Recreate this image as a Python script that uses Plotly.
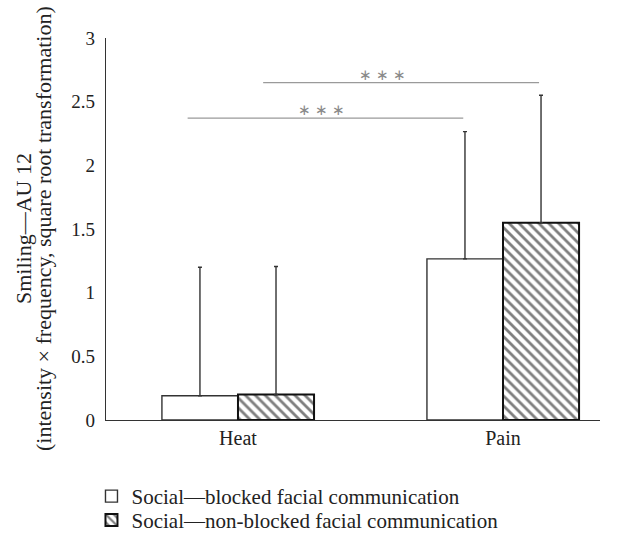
import plotly.graph_objects as go

categories = ["Heat", "Pain"]
series_names = ["Social—blocked facial communication", "Social—non-blocked facial communication"]
blocked_vals = [0.19, 1.265]
nonblocked_vals = [0.20, 1.55]
blocked_err = [1.01, 1.0]
nonblocked_err = [1.005, 1.0]
ytick_vals = [0, 0.5, 1, 1.5, 2, 2.5, 3]
ytick_text = ["0", "0.5", "1", "1.5", "2", "2.5", "3"]
ytitle_lines = ["Smiling—AU 12", "(intensity × frequency, square root transformation)"]

# significance brackets (category units) and levels
sig_x0 = [-0.19, 0.095]
sig_x1 = [0.85, 1.136]
sig_y = [2.37, 2.65]
sig_label_x = [0.316, 0.545]
sig_labels = ["∗ ∗ ∗", "∗ ∗ ∗"]

FONT = "Liberation Serif"
TXT = "#222222"

fig = go.Figure()
fig.add_trace(go.Bar(
    x=categories, y=blocked_vals, name=series_names[0], legend="legend",
    marker=dict(color="white", line=dict(color="#333333", width=1.4)),
    error_y=dict(type="data", array=blocked_err, arrayminus=[0, 0], symmetric=False,
                 color="#333333", thickness=1.4, width=2),
))
fig.add_trace(go.Bar(
    x=categories, y=nonblocked_vals, name=series_names[1], legend="legend2",
    marker=dict(color="white", line=dict(color="#111111", width=2),
                pattern=dict(shape="\\", fgcolor="#000000", bgcolor="white", size=7, solidity=0.4)),
    error_y=dict(type="data", array=nonblocked_err, arrayminus=[0, 0], symmetric=False,
                 color="#333333", thickness=1.4, width=2),
))

for x0, x1, y in zip(sig_x0, sig_x1, sig_y):
    fig.add_shape(type="line", xref="x", yref="y", x0=x0, x1=x1, y0=y, y1=y,
                  line=dict(color="#9a9a9a", width=1.2))
for lx, y, t in zip(sig_label_x, sig_y, sig_labels):
    fig.add_annotation(x=lx, y=y, xref="x", yref="y", text=t, showarrow=False,
                       yanchor="bottom", yshift=-2,
                       font=dict(family=FONT, size=15, color="#8a8a8a"))

# y-axis title, two rotated lines (positioned in x-domain units)
for i, line in enumerate(ytitle_lines):
    fig.add_annotation(x=(23 + 20 * i - 106) / 494, y=0.5, xref="x domain", yref="paper",
                       text=line, showarrow=False, textangle=-90,
                       xanchor="center", yanchor="middle",
                       font=dict(family=FONT, size=22, color=TXT))

legend_common = dict(x=-0.0294, xref="paper", yref="container",
                     xanchor="left", yanchor="top", orientation="v",
                     font=dict(family=FONT, size=21, color=TXT),
                     itemwidth=30, tracegroupgap=0, bgcolor="rgba(0,0,0,0)")

fig.update_layout(
    width=637, height=533,
    margin=dict(l=106, r=37, t=38, b=113, autoexpand=False),
    paper_bgcolor="white", plot_bgcolor="white",
    barmode="group", bargap=0.426, bargroupgap=0,
    font=dict(family=FONT, size=20, color=TXT),
    showlegend=True,
    legend=dict(y=0.107, **legend_common),
    legend2=dict(y=0.062, **legend_common),
)
fig.update_xaxes(
    range=[-0.498, 1.366], showline=True, linecolor="#333333", linewidth=1.3,
    showgrid=False, ticks="", zeroline=False, automargin=False,
    tickfont=dict(family=FONT, size=20, color=TXT),
)
fig.update_yaxes(
    range=[0, 3], tickvals=ytick_vals, ticktext=ytick_text,
    showline=True, linecolor="#333333", linewidth=1.3,
    showgrid=False, ticks="", zeroline=False, ticklabelstandoff=6, automargin=False,
    tickfont=dict(family=FONT, size=19, color=TXT),
)

fig.write_html("out.html", config={"displayModeBar": False},
               post_script="document.body.style.margin='0';")
